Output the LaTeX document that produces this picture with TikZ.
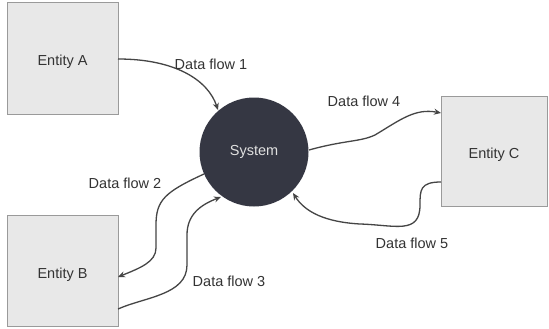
\documentclass[tikz,border=0pt]{standalone}
\usepackage{fontspec}
\setmainfont{Liberation Sans}
\usetikzlibrary{arrows.meta}
\definecolor{boxfill}{HTML}{E8E8E8}
\definecolor{boxline}{HTML}{9A9A9A}
\definecolor{sysfill}{HTML}{353743}
\definecolor{flowline}{HTML}{454545}
\definecolor{labeltext}{HTML}{333333}
\begin{document}
\begin{tikzpicture}[x=1pt,y=-1pt,
  txt/.style={font=\fontsize{14.5}{17}\selectfont},
  entity/.style={draw=boxline,fill=boxfill,line width=1pt,minimum width=111pt,minimum height=111pt,
    inner sep=0pt},
  entitytext/.style={txt,text=labeltext,yshift=-3.5pt},
  process/.style={circle,fill=sysfill,minimum size=109pt,inner sep=0pt,
    txt,text=white!88!black},
  flow/.style={draw=flowline,line width=1.3pt,-{Stealth[length=7pt,width=6pt]}},
  flowlabel/.style={txt,text=labeltext,inner sep=0pt}]
\useasboundingbox (0,0) rectangle (549,329);
\fill[white] (0,0) rectangle (549,329);

% entities and the central process
\node[entity,label={[entitytext]center:Entity A}] (A) at (62.5,58.5) {};
\node[entity,label={[entitytext]center:Entity B}] (B) at (62.5,271) {};
\node[entity,minimum width=106pt,minimum height=110pt,
  label={[entitytext]center:Entity C}] (C) at (494,151) {};
\node[process] (S) at (254,152) {System};

% connector end points on the shapes
\coordinate (a1) at (118,59);
\coordinate (s1) at (218,110);
\coordinate (s2) at (204,174);
\coordinate (b2) at (118,277);
\coordinate (b3) at (118,309);
\coordinate (s3) at (221,197);
\coordinate (s4) at (309,150);
\coordinate (c4) at (441,113);
\coordinate (c5) at (441,182);
\coordinate (s5) at (293,193);

% data flows
\draw[flow] (a1) .. controls (175,59) and (208,80) .. (s1);
\draw[flow] (s2) .. controls (165,192) and (156,200) .. (156,225)
  -- (156,248) .. controls (156,262) and (140,268) .. (b2);
\draw[flow] (b3) .. controls (145,297) and (187,295) .. (187,265)
  -- (187,235) .. controls (187,215) and (200,205) .. (s3);
\draw[flow] (s4) .. controls (345,140) and (360,142) .. (375,135)
  .. controls (400,120) and (415,108) .. (c4);
\draw[flow] (c5) .. controls (420,182) and (420,190) .. (420,205)
  .. controls (420,235) and (395,225) .. (360,224)
  .. controls (325,222) and (305,212) .. (s5);

% flow labels
\node[flowlabel] (l1) at (211,64) {Data flow 1};
\node[flowlabel] (l2) at (125,183) {Data flow 2};
\node[flowlabel] (l3) at (229,281) {Data flow 3};
\node[flowlabel] (l4) at (364,101) {Data flow 4};
\node[flowlabel] (l5) at (412,243) {Data flow 5};
\end{tikzpicture}
\end{document}
